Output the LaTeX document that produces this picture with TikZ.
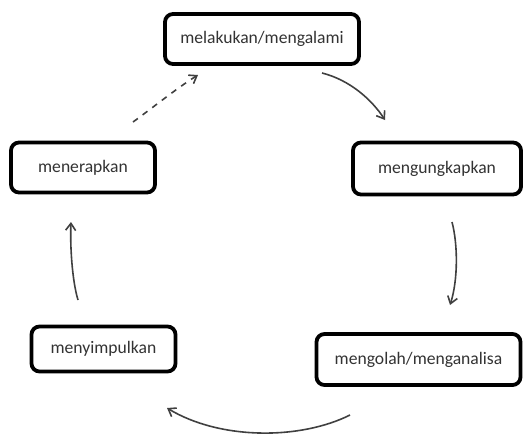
\documentclass[tikz,border=0pt]{standalone}
\usepackage{fontspec}
\setmainfont{Carlito}
\usepackage{tikz}
\usetikzlibrary{arrows.meta, shadows}

\begin{document}
\begin{tikzpicture}[
    x=0.5pt, y=-0.5pt,
    stepbox/.style={rectangle, draw=black, fill=white, line width=1.9pt, rounded corners=4pt, align=center, inner sep=0pt, text=black!80, font=\fontsize{8.8}{10}\selectfont, drop shadow={shadow xshift=0.6pt, shadow yshift=-0.6pt, opacity=0.25}},
    arrow/.style={-{Straight Barb[length=3.5pt, width=5pt]}, line width=0.8pt, draw=black!75}
]
    \useasboundingbox (0,0) rectangle (523,434);

    \node[stepbox, minimum width=97pt, minimum height=25pt] (alami) at (262,39) {melakukan/mengalami};
    \node[stepbox, minimum width=84pt, minimum height=26pt] (ungkap) at (437,168.5) {mengungkapkan};
    \node[stepbox, minimum width=102pt, minimum height=25.5pt] (olah) at (418.5,359.5) {mengolah/menganalisa};
    \node[stepbox, minimum width=72pt, minimum height=22.5pt] (simpul) at (103.5,349) {menyimpulkan};
    \node[stepbox, minimum width=72pt, minimum height=25pt] (terap) at (83,167.5) {menerapkan};

    % arrow ends
    \coordinate (a1) at (322,73);   \coordinate (b1) at (385,120);
    \coordinate (a2) at (452,222);  \coordinate (b2) at (450,305);
    \coordinate (a3) at (350,415);  \coordinate (b3) at (167,408);
    \coordinate (a4) at (78,300);   \coordinate (b4) at (71,222);
    \coordinate (a5) at (133,122);  \coordinate (b5) at (198,75);

    \draw[arrow] (a1) .. controls (350,80) and (372,100) .. (b1);
    \draw[arrow] (a2) .. controls (458,245) and (458,280) .. (b2);
    \draw[arrow] (a3) .. controls (300,440) and (220,440) .. (b3);
    \draw[arrow] (a4) .. controls (72,280) and (70,245) .. (b4);
    \draw[arrow, dashed] (a5) .. controls (155,106) and (177,88) .. (b5);
\end{tikzpicture}
\end{document}
